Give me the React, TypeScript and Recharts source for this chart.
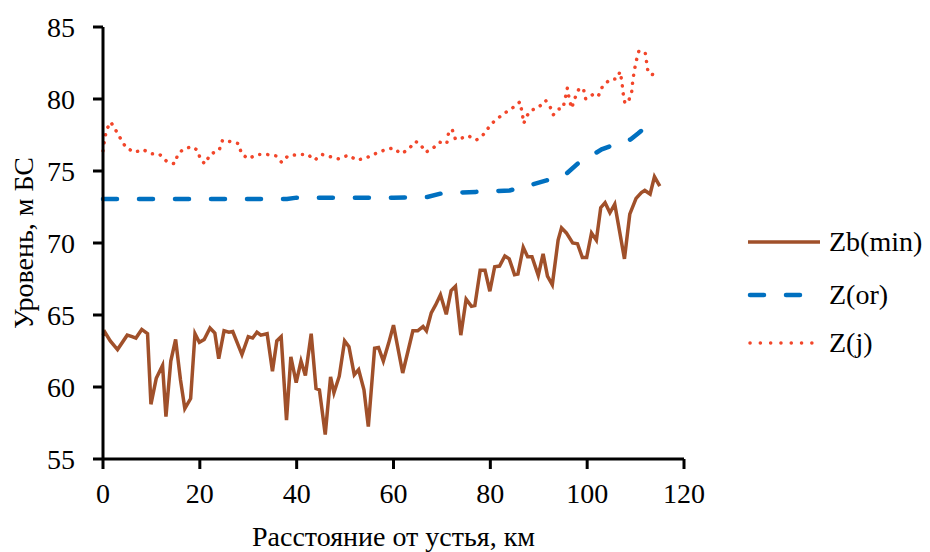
import { CartesianGrid, Line, LineChart, XAxis, YAxis } from "recharts";

// Zb(min): bed minimum level
const zbKm = [0, 0.4, 1.5, 3, 5, 6, 6.8, 8, 9.2, 9.9, 11, 12.3, 13, 14, 15, 16, 16.9, 18.1, 19, 19.9, 20.9, 22.1, 23.1, 23.9, 25, 26, 26.8, 28.7, 30, 30.9, 31.8, 32.6, 33.9, 35, 35.9, 36.8, 37.9, 38.8, 39.9, 40.9, 41.8, 43, 44, 44.7, 45.9, 47, 47.7, 48.8, 49.9, 50.8, 51.9, 52.8, 53.9, 54.8, 56.1, 56.9, 57.9, 59, 60, 61.9, 63, 64, 65, 66.1, 66.8, 67.8, 68.7, 69.7, 70.9, 71.9, 72.8, 73.9, 75, 76.1, 76.8, 77.9, 78.9, 79.9, 80.9, 81.9, 83, 83.9, 85, 85.7, 86.8, 87.7, 88.6, 89.9, 90.9, 91.8, 92.8, 94, 94.7, 95.7, 97, 98, 99, 99.9, 100.9, 101.9, 102.8, 103.7, 104.7, 105.7, 107.7, 108.8, 110.1, 111.2, 111.9, 113, 113.9, 115];
const zbLevel = [63.6, 63.8, 63.2, 62.6, 63.6, 63.5, 63.4, 64.0, 63.7, 58.8, 60.6, 61.5, 57.95, 61.8, 63.3, 60.5, 58.5, 59.2, 63.7, 63.1, 63.3, 64.1, 63.75, 61.96, 63.9, 63.8, 63.85, 62.25, 63.5, 63.4, 63.8, 63.6, 63.7, 61.1, 63.2, 63.5, 57.7, 62.1, 60.3, 61.8, 60.8, 63.7, 59.9, 59.8, 56.7, 60.7, 59.6, 60.75, 63.2, 62.8, 60.85, 61.2, 59.8, 57.25, 62.7, 62.75, 61.8, 63.05, 64.3, 60.97, 62.5, 63.9, 63.9, 64.2, 63.9, 65.15, 65.7, 66.4, 65.05, 66.7, 67.0, 63.6, 66.1, 65.6, 65.65, 68.1, 68.1, 66.65, 68.35, 68.4, 69.1, 68.9, 67.8, 67.85, 69.7, 69.05, 69.05, 67.75, 69.25, 67.7, 67.1, 70.2, 71.05, 70.7, 70.0, 69.95, 69.0, 69.0, 70.7, 70.2, 72.45, 72.8, 72.1, 72.7, 68.9, 72.0, 73.1, 73.5, 73.65, 73.4, 74.6, 73.95];

// Z(or)
const zorKm = [0, 10, 20, 30, 38, 40, 50, 60, 67, 70, 77, 84, 88, 91.6, 95, 98, 100, 103, 105, 107, 109, 110.5, 112.6, 113.5];
const zorLevel = [73.05, 73.05, 73.05, 73.05, 73.05, 73.15, 73.15, 73.15, 73.2, 73.45, 73.55, 73.65, 74.0, 74.35, 74.6, 75.5, 75.9, 76.5, 76.75, 76.9, 77.2, 77.6, 78.2, 78.4];

// Z(j)
const zjKm = [0, 0.3, 0.7, 1.6, 2.6, 3.7, 4.8, 6.6, 8.2, 10, 11.7, 13.2, 14.8, 15.5, 16.6, 18.3, 19.5, 20.2, 21.1, 22.1, 24, 24.7, 26.2, 28, 28.6, 30, 31.9, 33.8, 35.7, 36.9, 38.2, 39.2, 40.9, 42.3, 43.7, 45.2, 46.8, 48.6, 50.7, 52.4, 54.3, 56.2, 58.1, 59.9, 61.6, 63.1, 64.5, 65.5, 66.6, 67.9, 69.5, 71, 71.4, 72.1, 72.8, 74.2, 75.4, 77.1, 78.8, 80.1, 81.7, 83.5, 85.1, 86.1, 86.6, 86.9, 87.5, 88.3, 89.9, 91.4, 92.3, 93, 94.1, 95, 95.5, 95.9, 96.3, 96.8, 97.4, 98.3, 99.2, 99.7, 100.4, 101.4, 102.3, 103.2, 104.7, 106.1, 106.8, 107.2, 107.4, 107.8, 108.5, 109.2, 109.4, 109.7, 110.1, 110.7, 112, 112.3, 112.6, 113.5];
const zjLevel = [76.4, 77.1, 77.85, 78.4, 77.85, 77.2, 76.6, 76.3, 76.5, 76.2, 76.15, 75.65, 75.5, 76.2, 76.5, 76.7, 76.45, 75.75, 75.5, 76.15, 76.45, 77.15, 77.05, 76.9, 76.2, 75.85, 76.15, 76.15, 76.05, 75.6, 76.05, 76.1, 76.15, 76.15, 75.75, 76.15, 76.0, 75.85, 76.1, 75.75, 75.9, 76.2, 76.45, 76.6, 76.2, 76.5, 77.05, 76.9, 76.3, 76.5, 77.0, 76.9, 77.7, 77.9, 77.2, 77.3, 77.45, 77.15, 77.6, 78.25, 78.7, 79.15, 79.5, 79.8, 79.0, 78.3, 78.8, 79.2, 79.4, 79.9, 79.5, 78.9, 79.3, 79.35, 80.1, 80.75, 80.0, 79.35, 80.0, 80.7, 80.75, 80.0, 80.15, 80.35, 80.2, 80.9, 81.35, 81.4, 81.9, 81.15, 80.45, 79.7, 79.8, 80.5, 81.2, 81.9, 82.6, 83.35, 83.2, 82.5, 81.8, 81.7];

const xTicks = [0, 20, 40, 60, 80, 100, 120];
const yTicks = [55, 60, 65, 70, 75, 80, 85];

const BROWN = "#A0502A";
const BLUE = "#0070C0";
const RED = "#F2462A";
const FONT = "Liberation Serif";
const FS = 28;

const toRows = (km: number[], level: number[]) =>
  km.map((k, i) => ({ km: k, level: level[i] }));

const tickStyle = { fill: "#000", fontSize: FS, fontFamily: FONT };
const axisStroke = { stroke: "#000", strokeWidth: 3 };

function LegendBox() {
  const text = { fontSize: FS, fontFamily: FONT, fill: "#000" };
  return (
    <svg
      width={930}
      height={552}
      style={{ position: "absolute", left: 0, top: 0, pointerEvents: "none" }}
    >
      <line x1={748} x2={820} y1={242} y2={242} stroke={BROWN} strokeWidth={3.5} />
      <text x={829} y={251} {...text}>Zb(min)</text>
      <line x1={750} x2={820} y1={295} y2={295} stroke={BLUE} strokeWidth={4.5}
        strokeDasharray="14 22" strokeLinecap="round" />
      <text x={829} y={304} {...text}>Z(or)</text>
      <line x1={750} x2={815} y1={343} y2={343} stroke={RED} strokeWidth={3.5}
        strokeDasharray="0.1 10.2" strokeLinecap="round" />
      <text x={829} y={352} {...text}>Z(j)</text>
    </svg>
  );
}

export default function App() {
  return (
    <div style={{ position: "relative", width: 930, height: 552, background: "#fff" }}>
      <style>{`body{margin:0} svg text{font-family:"Liberation Serif","DejaVu Serif",serif !important;}`}</style>
      <LineChart width={930} height={552} margin={{ top: 27, right: 246, bottom: 0, left: 0 }}>
        <CartesianGrid stroke="none" />
        <XAxis
          type="number"
          dataKey="km"
          domain={[0, 120]}
          ticks={xTicks}
          height={93}
          tickSize={10}
          tickMargin={14}
          tick={tickStyle}
          axisLine={axisStroke}
          tickLine={axisStroke}
          label={{
            value: "Расстояние от устья, км",
            position: "insideBottom",
            offset: 6,
            style: { fill: "#000", fontSize: FS, fontFamily: FONT },
          }}
        />
        <YAxis
          type="number"
          domain={[55, 85]}
          ticks={yTicks}
          width={103}
          tickSize={10}
          tickMargin={18}
          tick={tickStyle}
          axisLine={axisStroke}
          tickLine={axisStroke}
          label={{
            value: "Уровень, м БС",
            angle: -90,
            position: "insideLeft",
            offset: 23,
            style: { textAnchor: "middle", fill: "#000", fontSize: FS, fontFamily: FONT },
          }}
        />
        <Line
          data={toRows(zbKm, zbLevel)}
          dataKey="level"
          name="Zb(min)"
          stroke={BROWN}
          strokeWidth={3.5}
          dot={false}
          isAnimationActive={false}
        />
        <Line
          data={toRows(zorKm, zorLevel)}
          dataKey="level"
          name="Z(or)"
          stroke={BLUE}
          strokeWidth={4.5}
          strokeDasharray="14 22"
          strokeLinecap="round"
          dot={false}
          isAnimationActive={false}
        />
        <Line
          data={toRows(zjKm, zjLevel)}
          dataKey="level"
          name="Z(j)"
          stroke={RED}
          strokeWidth={3.5}
          strokeDasharray="0.1 8"
          strokeLinecap="round"
          dot={false}
          isAnimationActive={false}
        />
      </LineChart>
      <LegendBox />
    </div>
  );
}
